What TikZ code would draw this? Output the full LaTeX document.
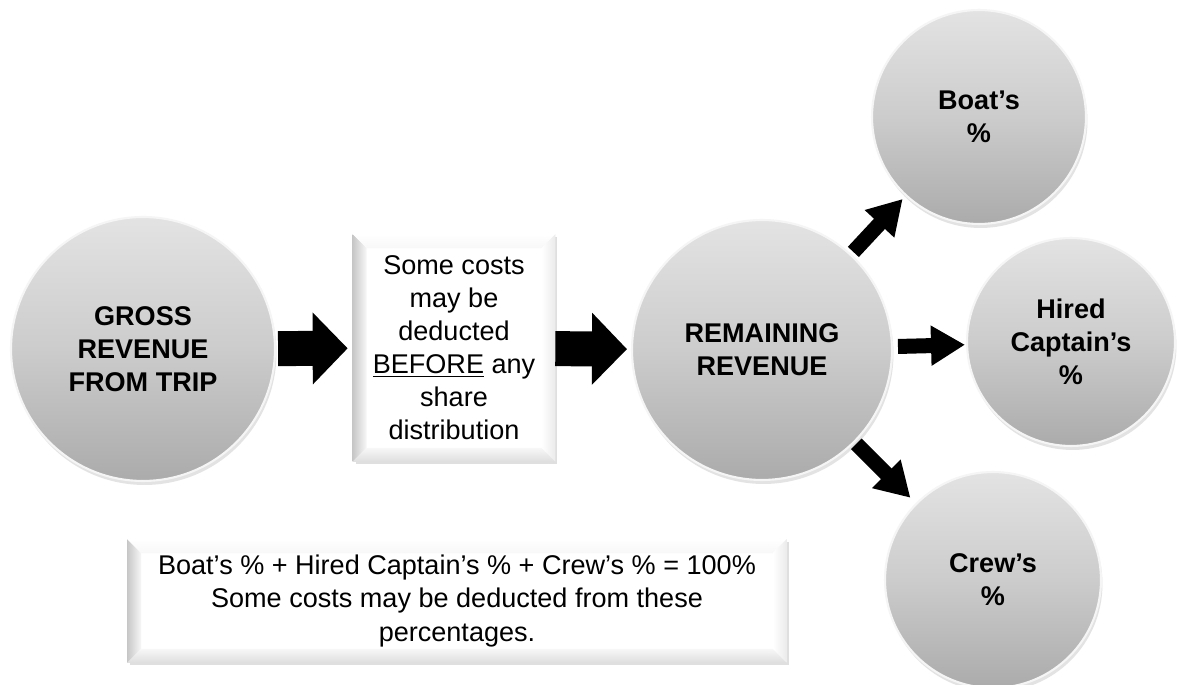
\documentclass[tikz,border=0pt]{standalone}
\usepackage{fontspec}
\setmainfont{Liberation Sans}
\usetikzlibrary{arrows.meta,calc,shadows}
\newcommand\bevelbox[2]{%
  \shade[left color=black!22, right color=black!3] (#1.north west) -- (#1.south west) -- ($(#1.south west)+(#2,-#2)$) -- ($(#1.north west)+(#2,#2)$) -- cycle;
  \shade[top color=white, bottom color=black!3] (#1.north west) -- (#1.north east) -- ($(#1.north east)+(-#2,#2)$) -- ($(#1.north west)+(#2,#2)$) -- cycle;
  \shade[left color=white, right color=black!8] (#1.north east) -- (#1.south east) -- ($(#1.south east)+(-#2,-#2)$) -- ($(#1.north east)+(-#2,#2)$) -- cycle;
  \shade[top color=black!3, bottom color=black!13] (#1.south west) -- (#1.south east) -- ($(#1.south east)+(-#2,-#2)$) -- ($(#1.south west)+(#2,-#2)$) -- cycle;
}

\begin{document}
\begin{tikzpicture}[x=0.02cm, y=-0.02cm,
    txt/.style={font=\fontsize{15.4}{18.8}\selectfont, align=center, text=black},
    ball/.style={circle, txt, font=\bfseries\fontsize{15.4}{18.8}\selectfont,
      top color=black!11, bottom color=black!33, middle color=black!20, draw=black!4, line width=1.2pt,
      drop shadow={opacity=0.22, shadow xshift=0.03cm, shadow yshift=-0.08cm}},
    card/.style={rectangle, txt, fill=white,
      drop shadow={opacity=0.25, shadow xshift=0.05cm, shadow yshift=-0.05cm}},
    bigarrow/.style={line width=0.7cm, -{Triangle[length=0.7cm, width=1.4cm]}},
    thinarrow/.style={line width=0.3cm, -{Triangle[length=0.68cm, width=0.76cm]}}]
  \fill[white] (0,0) rectangle (1177,685);
  \useasboundingbox (0,0) rectangle (1177,685);

  %%%%% nodes
  \node[ball, minimum size=5.28cm] (gross) at (143,349) {GROSS\\REVENUE\\FROM TRIP};
  \node[card, minimum width=4.04cm, minimum height=4.54cm] (costs) at (454,348)
    {Some costs\\may be\\deducted\\\underline{BEFORE} any\\share\\distribution};
  \bevelbox{costs}{14}
  \node[ball, minimum size=5.2cm] (remain) at (762,350) {REMAINING\\REVENUE};
  \node[ball, minimum size=4.28cm] (boat) at (979,117) {Boat’s\\\%};
  \node[ball, minimum size=4.16cm] (captain) at (1071,342) {Hired\\Captain’s\\\%};
  \node[ball, minimum size=4.32cm] (crew) at (993,580) {Crew’s\\\%};
  \node[card, minimum width=13.18cm, minimum height=2.46cm] (note) at (457,601)
    {Boat’s \% + Hired Captain’s \% + Crew’s \% = 100\%\\Some costs may be deducted from these\\percentages.};
  \bevelbox{note}{14}

  %%%%% arrows
  \draw[bigarrow, shorten <=0.04cm, shorten >=0.1cm] (gross) -- (costs);
  \draw[bigarrow, shorten >=0.08cm] (costs) -- (remain);
  \draw[thinarrow, shorten <=0.06cm, shorten >=0.08cm] (remain) -- (boat);
  \draw[thinarrow, shorten <=0.1cm, shorten >=0.02cm] (remain) -- (captain);
  \draw[thinarrow, shorten <=0.04cm, shorten >=0.15cm] (remain) -- (crew);
\end{tikzpicture}
\end{document}
